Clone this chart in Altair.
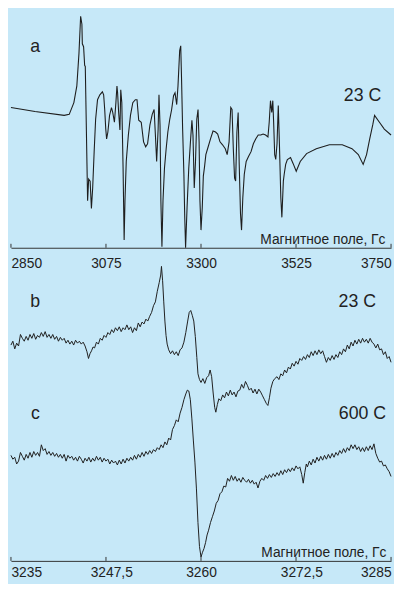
import altair as alt
import pandas as pd

# ---------------- data ----------------
a_field = [2850, 2907, 2976, 2988, 2999, 3006, 3011, 3015, 3018, 3019,
           3022, 3024.5, 3026, 3030, 3031.5, 3034, 3037.5, 3040.5, 3043.5, 3047,
           3050.5, 3055, 3060.5, 3066.5, 3069.5, 3072, 3074.5, 3076.5, 3079.5, 3083.5,
           3088, 3091, 3095, 3098.5, 3101, 3102.5, 3105, 3108, 3110, 3112.5,
           3115.5, 3118, 3120, 3123, 3128, 3133, 3138.5, 3144.5, 3148.5, 3152.5,
           3158.5, 3164, 3169, 3173.5, 3179, 3184.5, 3189, 3192, 3195, 3198.5,
           3200.5, 3203, 3205, 3207.5, 3210, 3213.5, 3217.5, 3221.5, 3226, 3230.5,
           3235, 3238.5, 3242.5, 3245.5, 3249.5, 3252, 3254, 3256.5, 3259.5, 3261.5,
           3263.5, 3267, 3271, 3275, 3278.5, 3281, 3284, 3287, 3290, 3293,
           3295.5, 3297.5, 3300, 3303, 3305.5, 3308.5, 3311.5, 3317, 3322.5, 3328.5,
           3334.5, 3339.5, 3345, 3351, 3357.5, 3362, 3366.5, 3370.5, 3373.5, 3376.5,
           3379.5, 3382, 3385, 3388, 3390.5, 3393.5, 3396, 3399, 3402.5, 3407,
           3412.5, 3418.5, 3424, 3429.5, 3435.5, 3441.5, 3447, 3453, 3458.5, 3461.5,
           3464.5, 3467.5, 3470, 3472, 3474.5, 3477, 3480, 3483, 3486, 3489,
           3491.5, 3495, 3497, 3500.5, 3504.5, 3512, 3518, 3525.5, 3535, 3550,
           3573, 3604, 3634.5, 3657.5, 3672.5, 3684, 3692, 3699.5, 3707, 3711,
           3722.5, 3734, 3750]
a_signal = [143, 139, 135, 136, 148, 165, 198, 236, 228, 208,
            205, 186, 185, 85, 48, 70, 68, 40, 61, 98,
            131, 151, 156, 159, 156, 141, 121, 111, 118, 135,
            143, 138, 128, 148, 165, 158, 138, 120, 161, 148,
            81, 8, 48, 88, 115, 135, 148, 151, 151, 130,
            128, 108, 103, 106, 125, 136, 141, 115, 88, 121,
            156, 125, 48, 1, 48, 81, 101, 118, 131, 141,
            155, 158, 146, 165, 201, 206, 171, 121, 75, 31,
            0, 41, 81, 108, 130, 115, 61, 88, 131, 141,
            108, 48, 18, 41, 73, 83, 95, 103, 111, 119,
            118, 116, 108, 105, 101, 95, 108, 143, 141, 101,
            71, 68, 118, 138, 85, 35, 18, 51, 75, 88,
            93, 98, 106, 111, 115, 115, 116, 115, 113, 128,
            150, 138, 150, 128, 95, 90, 106, 145, 101, 51,
            31, 68, 75, 85, 90, 92, 86, 78, 88, 96,
            101, 105, 105, 101, 95, 85, 95, 111, 126, 135,
            128, 121, 115]

b_field = [3235.00, 3235.25, 3235.50, 3235.75, 3236.00, 3236.25, 3236.50, 3236.75, 3237.00, 3237.25,
           3237.50, 3237.75, 3238.00, 3238.25, 3238.50, 3238.75, 3239.00, 3239.25, 3239.50, 3239.75,
           3240.00, 3240.25, 3240.50, 3240.75, 3241.00, 3241.25, 3241.50, 3241.75, 3242.00, 3242.25,
           3242.50, 3242.75, 3243.00, 3243.25, 3243.50, 3243.75, 3244.00, 3244.25, 3244.50, 3244.75,
           3245.00, 3245.20, 3245.40, 3245.60, 3245.80, 3246.00, 3246.25, 3246.50, 3246.75, 3247.00,
           3247.25, 3247.50, 3247.75, 3248.00, 3248.25, 3248.50, 3248.75, 3249.00, 3249.25, 3249.50,
           3249.75, 3250.00, 3250.25, 3250.50, 3250.75, 3251.00, 3251.25, 3251.50, 3251.75, 3252.00,
           3252.25, 3252.50, 3252.75, 3253.00, 3253.25, 3253.50, 3253.75, 3254.00, 3254.25, 3254.50,
           3254.70, 3254.80, 3254.95, 3255.10, 3255.25, 3255.40, 3255.55, 3255.75, 3256.00, 3256.25,
           3256.50, 3256.75, 3257.00, 3257.25, 3257.50, 3257.75, 3258.00, 3258.25, 3258.45, 3258.65,
           3258.85, 3259.05, 3259.25, 3259.45, 3259.60, 3259.80, 3260.00, 3260.25, 3260.50, 3260.75,
           3261.00, 3261.20, 3261.40, 3261.60, 3261.80, 3261.95, 3262.15, 3262.35, 3262.60, 3262.85,
           3263.10, 3263.35, 3263.60, 3263.85, 3264.10, 3264.35, 3264.60, 3264.85, 3265.10, 3265.35,
           3265.60, 3265.85, 3266.10, 3266.35, 3266.60, 3266.85, 3267.10, 3267.35, 3267.60, 3267.85,
           3268.10, 3268.35, 3268.60, 3268.80, 3269.00, 3269.20, 3269.45, 3269.70, 3270.00, 3270.25,
           3270.50, 3270.75, 3271.00, 3271.25, 3271.50, 3271.75, 3272.00, 3272.25, 3272.50, 3272.75,
           3273.00, 3273.25, 3273.50, 3273.75, 3274.00, 3274.25, 3274.50, 3274.75, 3275.00, 3275.25,
           3275.50, 3275.75, 3276.00, 3276.25, 3276.50, 3276.75, 3277.00, 3277.25, 3277.50, 3277.75,
           3278.00, 3278.25, 3278.50, 3278.75, 3279.00, 3279.25, 3279.50, 3279.75, 3280.00, 3280.25,
           3280.50, 3280.75, 3281.00, 3281.25, 3281.50, 3281.75, 3282.00, 3282.25, 3282.50, 3282.75,
           3283.00, 3283.25, 3283.50, 3283.75, 3284.00, 3284.25, 3284.50, 3284.75, 3285.00]
b_signal = [225, 229, 221, 227, 224, 236, 232, 229, 234, 230,
            236, 232, 237, 231, 235, 233, 238, 234, 239, 233,
            236, 232, 236, 231, 234, 229, 233, 230, 232, 227,
            230, 226, 229, 225, 230, 227, 229, 226, 228, 224,
            218, 211, 216, 219, 223, 222, 228, 226, 232, 230,
            235, 233, 238, 236, 241, 238, 243, 240, 244, 239,
            243, 241, 246, 241, 244, 238, 243, 240, 248, 244,
            249, 247, 252, 250, 255, 259, 266, 270, 281, 290,
            298, 307, 292, 270, 250, 235, 226, 220, 216, 219,
            215, 218, 214, 220, 222, 228, 238, 250, 259, 261,
            256, 250, 234, 212, 195, 189, 186, 190, 185, 191,
            193, 199, 192, 175, 160, 155, 163, 169, 167, 173,
            170, 176, 172, 178, 173, 176, 171, 177, 178, 184,
            180, 187, 183, 178, 180, 175, 179, 174, 179, 176,
            172, 168, 164, 162, 170, 180, 187, 190, 192, 189,
            195, 193, 199, 196, 202, 200, 206, 203, 208, 205,
            211, 209, 213, 210, 215, 212, 218, 214, 219, 215,
            220, 216, 219, 213, 207, 212, 209, 214, 210, 215,
            212, 218, 215, 221, 218, 225, 221, 228, 224, 230,
            226, 231, 227, 232, 228, 231, 227, 232, 228, 226,
            222, 226, 220, 221, 215, 218, 211, 213, 207]

c_field = [3235.00, 3235.25, 3235.50, 3235.75, 3236.00, 3236.25, 3236.50, 3236.75, 3237.00, 3237.25,
           3237.50, 3237.75, 3238.00, 3238.25, 3238.50, 3238.75, 3239.00, 3239.25, 3239.50, 3239.75,
           3240.00, 3240.25, 3240.50, 3240.75, 3241.00, 3241.25, 3241.50, 3241.75, 3242.00, 3242.25,
           3242.50, 3242.75, 3243.00, 3243.25, 3243.50, 3243.75, 3244.00, 3244.25, 3244.50, 3244.75,
           3245.00, 3245.25, 3245.50, 3245.75, 3246.00, 3246.25, 3246.50, 3246.75, 3247.00, 3247.25,
           3247.50, 3247.75, 3248.00, 3248.25, 3248.50, 3248.75, 3249.00, 3249.25, 3249.50, 3249.75,
           3250.00, 3250.25, 3250.50, 3250.75, 3251.00, 3251.25, 3251.50, 3251.75, 3252.00, 3252.25,
           3252.50, 3252.75, 3253.00, 3253.25, 3253.50, 3253.75, 3254.00, 3254.25, 3254.50, 3254.75,
           3255.00, 3255.25, 3255.50, 3255.75, 3256.00, 3256.25, 3256.50, 3256.75, 3257.00, 3257.25,
           3257.50, 3257.75, 3258.00, 3258.20, 3258.40, 3258.60, 3258.80, 3259.00, 3259.20, 3259.40,
           3259.60, 3259.80, 3260.00, 3260.20, 3260.40, 3260.60, 3260.80, 3261.00, 3261.25, 3261.50,
           3261.75, 3262.00, 3262.25, 3262.50, 3262.75, 3263.00, 3263.25, 3263.50, 3263.75, 3264.00,
           3264.25, 3264.50, 3264.75, 3265.00, 3265.25, 3265.50, 3265.75, 3266.00, 3266.25, 3266.50,
           3266.75, 3267.00, 3267.25, 3267.50, 3267.75, 3268.00, 3268.25, 3268.50, 3268.75, 3269.00,
           3269.25, 3269.50, 3269.75, 3270.00, 3270.25, 3270.50, 3270.75, 3271.00, 3271.25, 3271.50,
           3271.75, 3272.00, 3272.25, 3272.50, 3272.75, 3273.00, 3273.25, 3273.45, 3273.65, 3273.85,
           3274.00, 3274.25, 3274.50, 3274.75, 3275.00, 3275.25, 3275.50, 3275.75, 3276.00, 3276.25,
           3276.50, 3276.75, 3277.00, 3277.25, 3277.50, 3277.75, 3278.00, 3278.25, 3278.50, 3278.75,
           3279.00, 3279.25, 3279.50, 3279.75, 3280.00, 3280.25, 3280.50, 3280.75, 3281.00, 3281.25,
           3281.50, 3281.75, 3282.00, 3282.25, 3282.50, 3282.75, 3283.00, 3283.25, 3283.50, 3283.75,
           3284.00, 3284.25, 3284.50, 3284.75, 3285.00]
c_signal = [110, 106, 108, 101, 104, 113, 109, 105, 111, 107,
            113, 108, 114, 110, 113, 109, 121, 115, 117, 111,
            114, 110, 113, 109, 112, 108, 111, 107, 111, 104,
            110, 107, 109, 105, 108, 104, 109, 106, 102, 107,
            104, 108, 103, 107, 104, 109, 105, 108, 103, 107,
            104, 106, 101, 105, 102, 104, 100, 105, 101, 106,
            102, 107, 104, 108, 105, 110, 106, 111, 108, 113,
            109, 114, 111, 115, 112, 116, 114, 118, 116, 121,
            118, 124, 121, 128, 126, 137, 141, 147, 145, 154,
            160, 168, 174, 178, 177, 168, 148, 125, 103, 75,
            40, 15, 4, 9, 13, 19, 27, 32, 40, 46,
            52, 60, 63, 70, 72, 78, 77, 86, 83, 89,
            84, 88, 83, 86, 82, 87, 84, 82, 85, 81,
            84, 80, 82, 76, 83, 86, 84, 89, 86, 90,
            87, 91, 88, 92, 89, 94, 90, 95, 92, 96,
            93, 97, 94, 99, 96, 98, 90, 81, 92, 101,
            98, 104, 100, 106, 102, 108, 104, 109, 105, 110,
            106, 111, 107, 112, 108, 113, 110, 115, 112, 117,
            113, 118, 115, 121, 117, 121, 116, 119, 114, 118,
            114, 119, 115, 120, 116, 122, 112, 107, 103, 104,
            99, 100, 96, 93, 88]

top_ticks = [2850, 3075, 3300, 3525, 3750]
bottom_ticks = [3235, 3247.5, 3260, 3272.5, 3285]
bottom_tick_labels = ["3235", "3247,5", "3260", "3272,5", "3285"]
axis_title = "Магнитное поле, Гс"
top_labels = ["a", "23 C"]
bottom_labels = ["b", "23 C", "c", "600 C"]

# ---------------- styling ----------------
FONT = "Liberation Sans"
BG = "#c6e8f8"
INK = "#1e1e1e"
AX = "#333333"
TOP_W, TOP_H = 386, 239
BOT_W, BOT_H = 386, 302


def text_layer(txt, x, y, size=18, align="center"):
    return alt.Chart(pd.DataFrame({"t": [txt]})).mark_text(
        font=FONT, fontSize=size, color="#222222", align=align, baseline="alphabetic"
    ).encode(x=alt.value(x), y=alt.value(y), text="t:N")


# ---------------- top panel (a) ----------------
df_a = pd.DataFrame({"field": a_field, "signal": a_signal, "i": range(len(a_field))})
x_top = alt.X("field:Q",
              scale=alt.Scale(domain=[top_ticks[0], top_ticks[-1]], nice=False, zero=False),
              axis=alt.Axis(values=top_ticks, format="d", labelFlush=True, ticks=False,
                            grid=False, title=None, labelPadding=9, labelFontSize=14,
                            labelFont=FONT, labelColor="#222222", domainColor=AX,
                            domainWidth=1))
y_top = alt.Y("signal:Q", scale=alt.Scale(domain=[0, 240], nice=False, zero=False), axis=None)

line_a = alt.Chart(df_a).mark_line(color=INK, strokeWidth=1.1).encode(
    x=x_top, y=y_top, order="i:Q")
ticks_a = alt.Chart(pd.DataFrame({"field": top_ticks})).mark_rule(color=AX).encode(
    x=alt.X("field:Q"), y=alt.value(TOP_H - 4), y2=alt.value(TOP_H))

top = alt.layer(
    line_a, ticks_a,
    text_layer(top_labels[0], 24.7, 40.3),
    text_layer(top_labels[1], 357, 89.7),
    text_layer(axis_title, 380.3, TOP_H - 3.7, size=14, align="right"),
).properties(width=TOP_W, height=TOP_H)

# ---------------- bottom panel (b, c) ----------------
df_b = pd.DataFrame({"field": b_field, "signal": b_signal, "i": range(len(b_field))})
df_c = pd.DataFrame({"field": c_field, "signal": c_signal, "i": range(len(c_field))})
int_ticks = [v for v in bottom_ticks if float(v).is_integer()]
half = [(v, l) for v, l in zip(bottom_ticks, bottom_tick_labels) if not float(v).is_integer()]
df_half = pd.DataFrame({"field": [h[0] for h in half], "label": [h[1] for h in half]})

x_bot = alt.X("field:Q",
              scale=alt.Scale(domain=[bottom_ticks[0], bottom_ticks[-1]], nice=False, zero=False),
              axis=alt.Axis(values=int_ticks, format="d", labelFlush=True, ticks=False,
                            grid=False, title=None, labelPadding=5, labelFontSize=14,
                            labelFont=FONT, labelColor="#222222", domainColor=AX,
                            domainWidth=1))
y_bot = alt.Y("signal:Q", scale=alt.Scale(domain=[0, 310], nice=False, zero=False), axis=None)

line_b = alt.Chart(df_b).mark_line(color=INK, strokeWidth=1).encode(
    x=x_bot, y=y_bot, order="i:Q")
line_c = alt.Chart(df_c).mark_line(color=INK, strokeWidth=1).encode(
    x=alt.X("field:Q"), y=alt.Y("signal:Q"), order="i:Q")
ticks_b = alt.Chart(pd.DataFrame({"field": bottom_ticks})).mark_rule(color=AX).encode(
    x=alt.X("field:Q"), y=alt.value(BOT_H - 4), y2=alt.value(BOT_H))
half_labels = alt.Chart(df_half).mark_text(
    font=FONT, fontSize=14, color="#222222", align="left", baseline="top", dx=-15.5
).encode(x=alt.X("field:Q"), y=alt.value(BOT_H + 5), text="label:N")

bottom = alt.layer(
    line_b, line_c, ticks_b, half_labels,
    text_layer(bottom_labels[0], 24.7, 43.8),
    text_layer(bottom_labels[1], 351.7, 43.8),
    text_layer(bottom_labels[2], 24.8, 158.1),
    text_layer(bottom_labels[3], 357, 158.1),
    text_layer(axis_title, 381.3, BOT_H - 4.3, size=14, align="right"),
).properties(width=BOT_W, height=BOT_H)

chart = alt.vconcat(top, bottom, spacing=16, bounds="flush").properties(
    padding=0, background=BG
).configure_view(stroke=None)

chart.save("out.html", embed_options={"renderer": "svg", "actions": False})
